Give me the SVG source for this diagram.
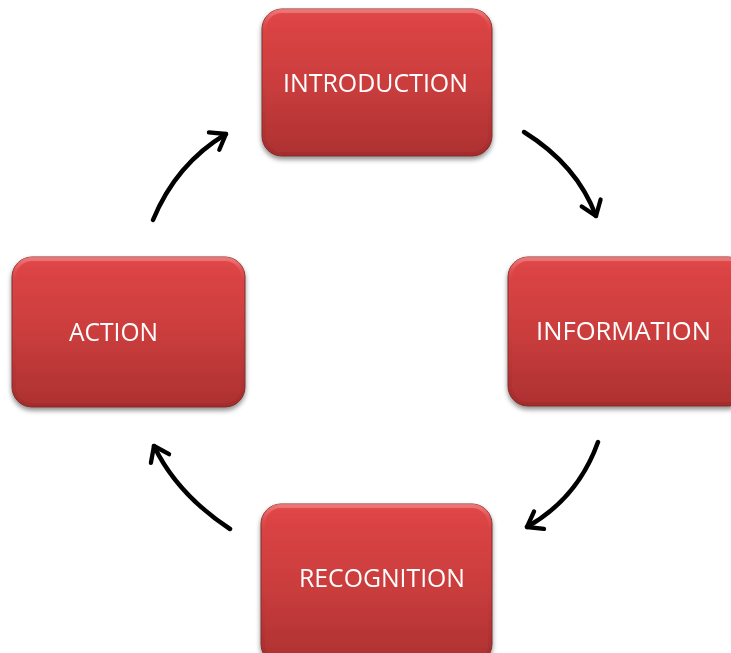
<svg xmlns="http://www.w3.org/2000/svg" width="731" height="653" viewBox="0 0 731 653">
<style>
.box{fill:url(#g);stroke:#7a3030;stroke-width:1}
.hl{fill:none;stroke:url(#h);stroke-width:4}
.lbl{font-family:"Open Sans","Noto Sans",sans-serif;font-size:26px;fill:#ffffff}
.arr{fill:none;stroke:#000;stroke-width:4.5;stroke-linecap:round;marker-end:url(#ah)}
</style>
<defs>
<linearGradient id="g" x1="0" y1="0" x2="0" y2="1">
<stop offset="0" stop-color="#e24a4a"/>
<stop offset="0.08" stop-color="#dc4444"/>
<stop offset="0.5" stop-color="#cb3d3d"/>
<stop offset="1" stop-color="#ad3131"/>
</linearGradient>
<linearGradient id="h" x1="0" y1="0" x2="0" y2="1">
<stop offset="0" stop-color="#f08080" stop-opacity="0.8"/>
<stop offset="0.15" stop-color="#e05050" stop-opacity="0"/>
<stop offset="1" stop-color="#902020" stop-opacity="0.3"/>
</linearGradient>
<filter id="sh" x="-10%" y="-10%" width="120%" height="130%">
<feGaussianBlur in="SourceAlpha" stdDeviation="2.5"/>
<feOffset dx="0" dy="3" result="b"/>
<feComponentTransfer><feFuncA type="linear" slope="0.45"/></feComponentTransfer>
<feMerge><feMergeNode/><feMergeNode in="SourceGraphic"/></feMerge>
</filter>
<marker id="ah" viewBox="0 0 20 20" refX="14" refY="10" markerWidth="5.6" markerHeight="5.6" orient="auto" markerUnits="strokeWidth">
<polyline points="3,2 14,10 3,18" fill="none" stroke="#000" stroke-width="3.4" stroke-linecap="round" stroke-linejoin="round"/>
</marker>
</defs>
<rect width="731" height="653" fill="#ffffff"/>
<g id="connectors">
<path class="arr" d="M524,132 Q577,165 596,216"/>
<path class="arr" d="M598,442 Q578,498 527,527"/>
<path class="arr" d="M230,529 Q177,494 154,446"/>
<path class="arr" d="M153,220 Q176,164 226,134"/>
</g>
<g id="introduction" filter="url(#sh)">
<rect class="box" x="262" y="9" width="230" height="147" rx="20"/>
<rect class="hl" x="264" y="11" width="226" height="143" rx="18"/>
<text class="lbl" x="283" y="92" textLength="185" lengthAdjust="spacingAndGlyphs">INTRODUCTION</text>
</g>
<g id="information" filter="url(#sh)">
<rect class="box" x="508" y="257" width="240" height="149" rx="20"/>
<rect class="hl" x="510" y="259" width="236" height="145" rx="18"/>
<text class="lbl" x="536" y="340" textLength="175" lengthAdjust="spacingAndGlyphs">INFORMATION</text>
</g>
<g id="action" filter="url(#sh)">
<rect class="box" x="12" y="257" width="233" height="150" rx="20"/>
<rect class="hl" x="14" y="259" width="229" height="146" rx="18"/>
<text class="lbl" x="69" y="341" textLength="89" lengthAdjust="spacingAndGlyphs">ACTION</text>
</g>
<g id="recognition" filter="url(#sh)">
<rect class="box" x="261" y="504" width="231" height="160" rx="20"/>
<rect class="hl" x="263" y="506" width="227" height="156" rx="18"/>
<text class="lbl" x="299" y="587" textLength="166" lengthAdjust="spacingAndGlyphs">RECOGNITION</text>
</g>
</svg>
